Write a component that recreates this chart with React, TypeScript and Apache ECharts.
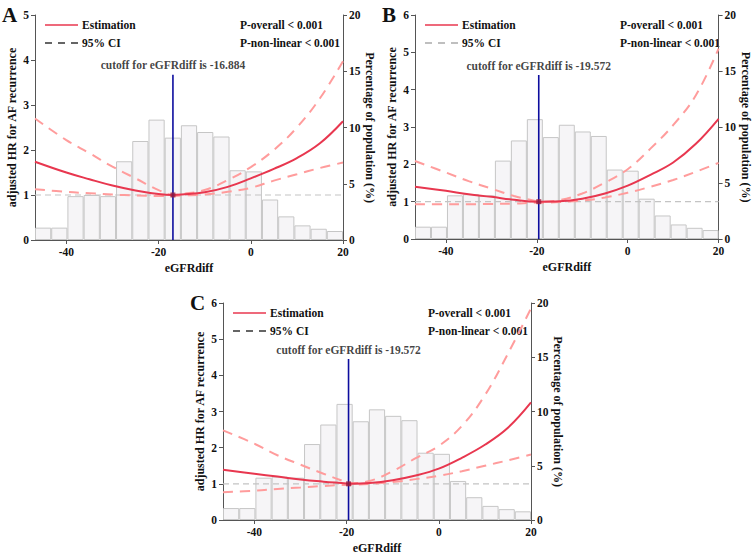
import React, { useEffect, useRef } from "react";
import * as echarts from "echarts";

const X_MIN = -46.8;
const X_MAX = 20;
const xTickValues = [-40, -20, 0, 20];
const panelLetters = ["A", "B", "C"];
const cutoffs = [-16.884, -19.572, -19.572];
const cutoffLabels = [
  "cutoff for eGFRdiff is -16.884",
  "cutoff for eGFRdiff is -19.572",
  "cutoff for eGFRdiff is -19.572",
];
const cutoffLineTop = [3.67, 4.39, 4.45];
const hrMax = [5, 6, 6];
const pctMax = 20;

// histogram, percentage of population per bin (19 equal bins spanning the x range)
const histPct = [1.1, 1.1, 3.9, 4.0, 3.9, 7.0, 8.8, 10.7, 9.1, 10.2, 9.6, 9.2, 6.2, 6.1, 3.6, 2.1, 1.3, 1.0, 0.8];

// Panel A
const xA = [-46.8, -40, -35, -30, -25, -20, -16.884, -15, -10, -5, 0, 5, 10, 15, 20];
const estA = [1.74, 1.5, 1.35, 1.21, 1.1, 1.02, 1.0, 1.01, 1.06, 1.18, 1.37, 1.58, 1.82, 2.15, 2.64];
const upA = [2.7, 2.22, 1.93, 1.63, 1.37, 1.11, 1.0, 1.02, 1.11, 1.33, 1.62, 2.0, 2.5, 3.15, 3.97];
const loA = [1.13, 1.07, 1.04, 1.01, 0.99, 0.98, 0.98, 0.99, 1.01, 1.07, 1.16, 1.32, 1.46, 1.6, 1.72];

// Panel B
const xB = [-46.8, -40, -35, -30, -25, -20, -19.572, -15, -10, -5, 0, 5, 10, 15, 20];
const estB = [1.4, 1.29, 1.2, 1.13, 1.05, 1.0, 1.0, 1.01, 1.08, 1.22, 1.43, 1.72, 2.05, 2.55, 3.22];
const upB = [2.09, 1.78, 1.55, 1.35, 1.15, 1.01, 1.0, 1.04, 1.22, 1.51, 1.87, 2.42, 3.05, 3.85, 5.1];
const loB = [0.93, 0.93, 0.93, 0.94, 0.95, 0.97, 0.97, 0.99, 1.03, 1.11, 1.24, 1.4, 1.58, 1.8, 2.04];

// Panel C
const xC = [-46.8, -40, -35, -30, -25, -20, -19.572, -15, -10, -5, 0, 5, 10, 15, 20];
const estC = [1.39, 1.28, 1.2, 1.12, 1.06, 1.01, 1.0, 1.02, 1.1, 1.23, 1.42, 1.72, 2.08, 2.55, 3.25];
const upC = [2.48, 2.11, 1.79, 1.53, 1.28, 1.04, 1.02, 1.08, 1.35, 1.71, 2.05, 2.6, 3.45, 4.6, 5.85];
const loC = [0.77, 0.81, 0.86, 0.9, 0.94, 0.97, 0.97, 1.0, 1.05, 1.13, 1.22, 1.35, 1.5, 1.65, 1.81];

const panelX = [xA, xB, xC];
const panelEst = [estA, estB, estC];
const panelUp = [upA, upB, upC];
const panelLo = [loA, loB, loC];

const FONT = "'Liberation Serif', 'Times New Roman', serif";
const AXIS_COLOR = "#555";
const EST_COLOR = "#e8374f";
const CI_COLOR = "#ff9c9c";

const grids = [
  { left: 35, top: 15, width: 308, height: 225 },
  { left: 415, top: 15, width: 309, height: 224 },
  { left: 223, top: 303, width: 308, height: 224 },
];
const legendCiColor = ["#333", "#aaa", "#333"];

function buildOption() {
  const grid: any[] = [];
  const xAxis: any[] = [];
  const yAxis: any[] = [];
  const series: any[] = [];
  const graphic: any[] = [];
  const binNames = histPct.map((_, i) => "b" + i);
  const txt = { fontFamily: FONT, fontWeight: "bold", fontSize: 11.5, color: "#111" };

  grids.forEach((g, i) => {
    grid.push({ ...g, containLabel: false });
    xAxis.push({
      type: "value",
      gridIndex: i,
      min: X_MIN,
      max: X_MAX,
      name: "eGFRdiff",
      nameLocation: "middle",
      nameGap: 22,
      nameTextStyle: { ...txt, fontSize: 12 },
      axisLine: { show: true, onZero: false, lineStyle: { color: AXIS_COLOR } },
      axisTick: { show: true, customValues: xTickValues, length: 4, lineStyle: { color: AXIS_COLOR } },
      axisLabel: { ...txt, customValues: xTickValues, margin: 6 },
      splitLine: { show: false },
    });
    xAxis.push({
      type: "category",
      gridIndex: i,
      data: binNames,
      show: false,
      boundaryGap: true,
    });
    yAxis.push({
      type: "value",
      gridIndex: i,
      position: "left",
      min: 0,
      max: hrMax[i],
      interval: 1,
      name: "adjusted HR for AF recurrence",
      nameLocation: "middle",
      nameGap: 17,
      nameTextStyle: { ...txt, fontSize: 12 },
      axisLine: { show: true, onZero: false, lineStyle: { color: AXIS_COLOR } },
      axisTick: { show: true, length: 4, lineStyle: { color: AXIS_COLOR } },
      axisLabel: { ...txt, margin: 6 },
      splitLine: { show: false },
    });
    yAxis.push({
      type: "value",
      gridIndex: i,
      position: "right",
      min: 0,
      max: pctMax,
      interval: 5,
      name: "Percentage of population (%)",
      nameLocation: "middle",
      nameRotate: -90,
      nameGap: 18,
      nameTextStyle: { ...txt, fontSize: 12 },
      axisLine: { show: true, onZero: false, lineStyle: { color: AXIS_COLOR } },
      axisTick: { show: true, length: 4, lineStyle: { color: AXIS_COLOR } },
      axisLabel: { ...txt, margin: 6 },
      splitLine: { show: false },
    });

    const vx = 2 * i;
    const cx = 2 * i + 1;
    const ly = 2 * i;
    const ry = 2 * i + 1;

    series.push({
      type: "bar",
      xAxisIndex: cx,
      yAxisIndex: ry,
      data: histPct,
      barWidth: "100%",
      itemStyle: { color: "#f6f5f7", borderColor: "#c6c6c6", borderWidth: 1 },
      silent: true,
      z: 1,
    });
    series.push({
      type: "line",
      xAxisIndex: vx,
      yAxisIndex: ly,
      data: [
        [X_MIN, 1],
        [X_MAX, 1],
      ],
      symbol: "none",
      lineStyle: { color: "#c4c4c4", width: 1.2, type: [6, 4] },
      z: 2,
    });
    const xs = panelX[i];
    const mk = (arr: number[]) => xs.map((x, k) => [x, arr[k]]);
    series.push({
      type: "line",
      xAxisIndex: vx,
      yAxisIndex: ly,
      data: mk(panelUp[i]),
      smooth: 0.4,
      symbol: "none",
      lineStyle: { color: CI_COLOR, width: 2, type: [10, 7] },
      z: 3,
    });
    series.push({
      type: "line",
      xAxisIndex: vx,
      yAxisIndex: ly,
      data: mk(panelLo[i]),
      smooth: 0.4,
      symbol: "none",
      lineStyle: { color: CI_COLOR, width: 2, type: [10, 7] },
      z: 3,
    });
    series.push({
      type: "line",
      xAxisIndex: vx,
      yAxisIndex: ly,
      data: mk(panelEst[i]),
      smooth: 0.4,
      symbol: "none",
      lineStyle: { color: EST_COLOR, width: 2 },
      z: 4,
    });
    series.push({
      type: "line",
      xAxisIndex: vx,
      yAxisIndex: ly,
      data: [
        [cutoffs[i], 0],
        [cutoffs[i], cutoffLineTop[i]],
      ],
      symbol: "none",
      lineStyle: { color: "#0d0d9e", width: 1.6 },
      z: 5,
    });
    series.push({
      type: "scatter",
      xAxisIndex: vx,
      yAxisIndex: ly,
      data: [
        { value: [cutoffs[i], 1], symbol: "rect", symbolSize: 5, itemStyle: { color: "#9a1c3c" } },
        {
          value: [cutoffs[i], cutoffLineTop[i]],
          symbolSize: 1,
          itemStyle: { color: "rgba(0,0,0,0)" },
          label: {
            show: true,
            position: "top",
            distance: 3,
            formatter: cutoffLabels[i],
            ...txt,
          },
        },
      ],
      z: 6,
    });

    // legend and texts
    const L = g.left;
    const T = g.top;
    const f = `bold 11.5px ${FONT}`;
    graphic.push({
      type: "line",
      shape: { x1: L + 10, y1: T + 10, x2: L + 43, y2: T + 10 },
      style: { stroke: EST_COLOR, lineWidth: 1.5 },
    });
    graphic.push({
      type: "text",
      x: L + 47,
      y: T + 10,
      style: { text: "Estimation", font: f, fill: "#111", verticalAlign: "middle" },
    });
    graphic.push({
      type: "line",
      shape: { x1: L + 10, y1: T + 28, x2: L + 43, y2: T + 28 },
      style: { stroke: legendCiColor[i], lineWidth: 1.5, lineDash: [7, 6] },
    });
    graphic.push({
      type: "text",
      x: L + 47,
      y: T + 28,
      style: { text: "95% CI", font: f, fill: "#111", verticalAlign: "middle" },
    });
    graphic.push({
      type: "text",
      x: L + 205,
      y: T + 10,
      style: { text: "P-overall < 0.001", font: f, fill: "#111", verticalAlign: "middle" },
    });
    graphic.push({
      type: "text",
      x: L + 205,
      y: T + 28,
      style: { text: "P-non-linear < 0.001", font: f, fill: "#111", verticalAlign: "middle" },
    });
    graphic.push({
      type: "text",
      x: L - 33,
      y: T - 11,
      style: { text: panelLetters[i], font: `bold 21px ${FONT}`, fill: "#111" },
    });
  });

  return {
    animation: false,
    backgroundColor: "#fff",
    grid,
    xAxis,
    yAxis,
    series,
    graphic,
  };
}

export default function App() {
  const ref = useRef<HTMLDivElement>(null);
  useEffect(() => {
    document.body.style.margin = "0";
    if (!ref.current) return;
    const chart = echarts.init(ref.current, null, { renderer: "svg" });
    chart.setOption(buildOption() as any);
    return () => chart.dispose();
  }, []);
  return <div ref={ref} style={{ width: 753, height: 555 }} />;
}
